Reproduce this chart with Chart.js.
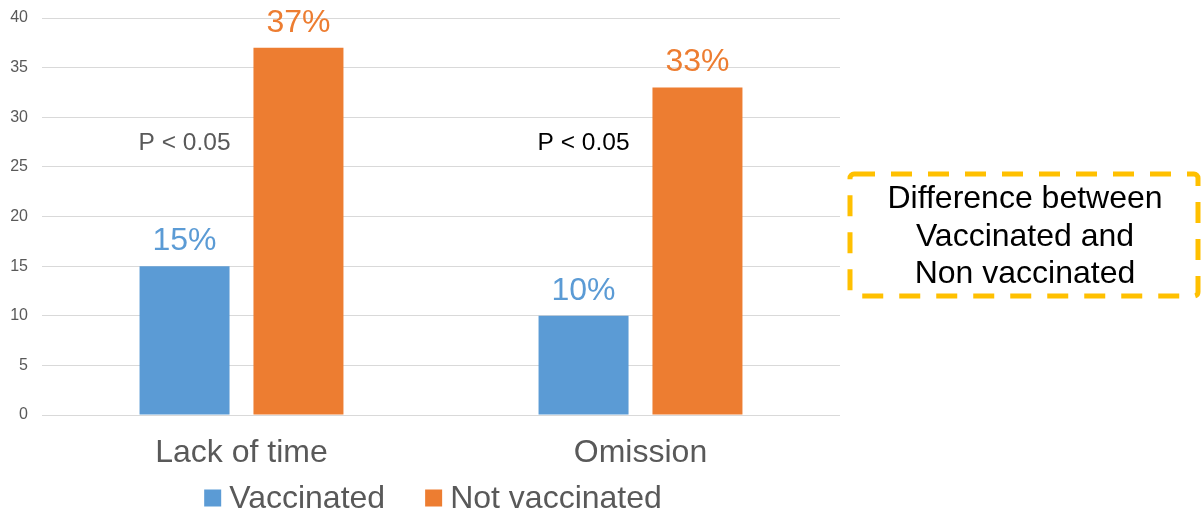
<!DOCTYPE html>
<html>
<head>
<meta charset="utf-8">
<script src="https://cdn.jsdelivr.net/npm/chart.js@4.4.1/dist/chart.umd.min.js"></script>
<style>
	body { margin: 0; background: #fff; }
	#wrap { width: 1204px; height: 515px; position: relative; }
</style>
</head>
<body>
<div id="wrap"><canvas id="graphique"></canvas></div>
<script>
// Données du graphique
const categories = ["Lack of time", "Omission"];
const seriesLabels = ["Vaccinated", "Not vaccinated"];
const vaccinated = [15, 10];
const notVaccinated = [37, 33];
const yMax = 40;
const yStep = 5;
// Annotations
const pNotes = ["P < 0.05", "P < 0.05"];
const pNoteValue = 27.4;
const boxLines = ["Difference between", "Vaccinated and", "Non vaccinated"];

const FONT = "'Liberation Sans', Arial, sans-serif";
const couleurs = ["#5B9BD5", "#ED7D31"];
const gris = "#595959";

// étiquettes de valeur, notes P, encadré et légende
const annotations = {
	id: "annotations",
	afterDatasetsDraw(chart) {
		const ctx = chart.ctx;
		const y = chart.scales.y;
		ctx.save();
		ctx.textAlign = "center";
		ctx.textBaseline = "middle";

		// valeurs au-dessus des barres
		ctx.font = "32px " + FONT;
		chart.data.datasets.forEach((ds, d) => {
			const meta = chart.getDatasetMeta(d);
			meta.data.forEach((bar, i) => {
				ctx.fillStyle = couleurs[d];
				ctx.fillText(ds.data[i] + "%", bar.x, bar.y - 25);
			});
		});

		// P < 0.05
		ctx.font = "24.5px " + FONT;
		const meta0 = chart.getDatasetMeta(0);
		pNotes.forEach((txt, i) => {
			ctx.fillStyle = i === 0 ? gris : "#000";
			ctx.fillText(txt, meta0.data[i].x, y.getPixelForValue(pNoteValue));
		});

		// encadré pointillé
		ctx.strokeStyle = "#FFC000";
		ctx.lineWidth = 5;
		ctx.setLineDash([21, 16]);
		ctx.beginPath();
		ctx.roundRect(850, 174, 348, 122, 4);
		ctx.stroke();
		ctx.setLineDash([]);
		ctx.fillStyle = "#000";
		ctx.font = "32px " + FONT;
		const lignesY = [199, 237, 274];
		boxLines.forEach((l, i) => ctx.fillText(l, 1025, lignesY[i]));

		// légende
		ctx.font = "32px " + FONT;
		const box = 17, gap = 8, itemGap = 40;
		const largeurs = seriesLabels.map(l => ctx.measureText(l).width);
		let total = 0;
		largeurs.forEach((w, i) => { total += box + gap + w + (i > 0 ? itemGap : 0); });
		let x = 433 - total / 2;
		const ly = 498;
		ctx.textAlign = "left";
		seriesLabels.forEach((l, i) => {
			ctx.fillStyle = couleurs[i];
			ctx.fillRect(x, ly - box / 2, box, box);
			x += box + gap;
			ctx.fillStyle = gris;
			ctx.fillText(l, x, ly + 1);
			x += largeurs[i] + itemGap;
		});
		ctx.restore();
	}
};

const data = {
	labels: categories,
	datasets: [
		{ label: seriesLabels[0], data: vaccinated, backgroundColor: couleurs[0] },
		{ label: seriesLabels[1], data: notVaccinated, backgroundColor: couleurs[1] }
	]
};

const config = {
	type: "bar",
	data: data,
	options: {
		responsive: true,
		maintainAspectRatio: false,
		animation: false,
		categoryPercentage: 0.571,
		barPercentage: 0.79,
		layout: { padding: { top: 18, right: 364, bottom: 40, left: 0 } },
		plugins: {
			legend: { display: false },
			tooltip: { enabled: false }
		},
		scales: {
			y: {
				min: 0,
				max: yMax,
				ticks: { stepSize: yStep, color: gris, font: { family: FONT, size: 16 }, padding: 14 },
				grid: { color: "#d9d9d9", drawTicks: false },
				border: { display: false },
				afterFit: s => { s.width = 42; s.paddingTop = 0; s.paddingBottom = 0; }
			},
			x: {
				grid: { display: false, drawTicks: false },
				border: { display: false },
				ticks: { color: gris, font: { family: FONT, size: 32 }, padding: 19 },
				afterFit: s => { s.height = 60; s.paddingLeft = 0; s.paddingRight = 0; }
			}
		}
	},
	plugins: [annotations]
};

new Chart(document.querySelector("#graphique"), config);
</script>
</body>
</html>
